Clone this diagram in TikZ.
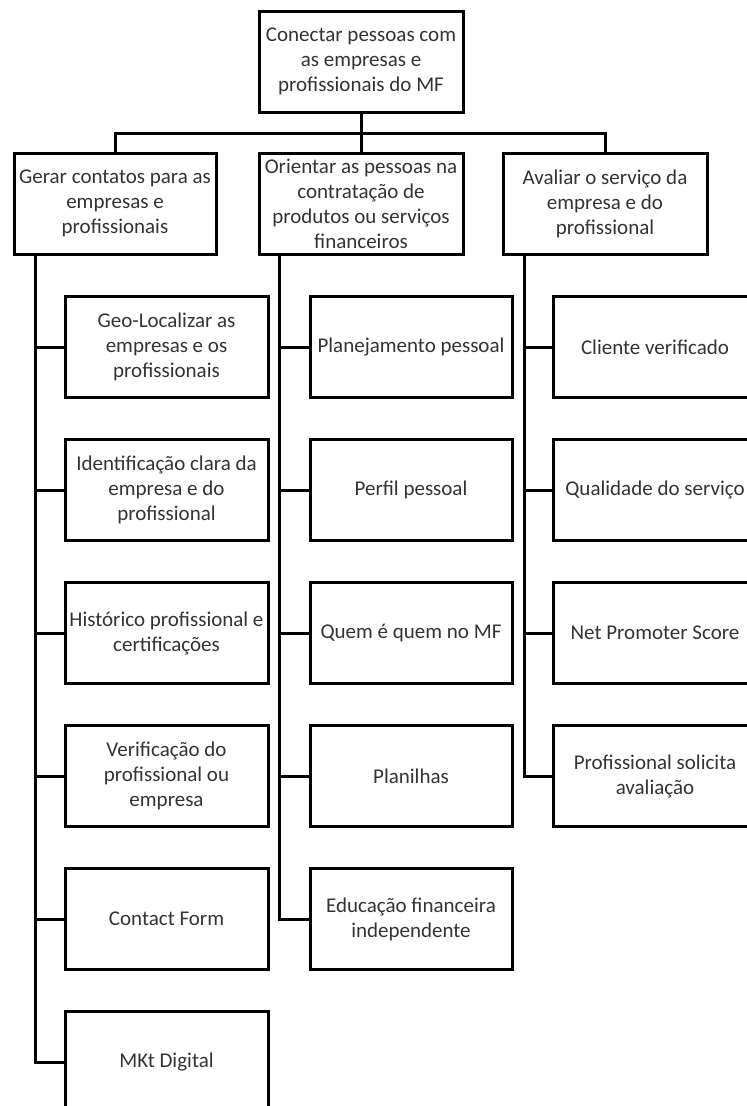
\documentclass[tikz,border=0pt]{standalone}
\usepackage{fontspec}
\setmainfont{Carlito}
\begin{document}
\begin{tikzpicture}[x=1pt,y=-1pt,
  caixa/.style={draw,line width=3pt,outer sep=0pt,inner sep=0pt,align=center,
    text=black!80,font=\fontsize{21}{25}\selectfont,minimum height=101pt},
  liga/.style={line width=3pt}]
\useasboundingbox (0,0) rectangle (747,1106);
\clip (0,0) rectangle (747,1106);
% topo e segundo nivel
\node[caixa,minimum width=204pt] (topo) at (361,61.5) {Conectar pessoas com\\as empresas e\\profissionais do MF};
\node[caixa,minimum width=202pt] (gerar) at (115,203.5) {Gerar contatos para as\\empresas e\\profissionais};
\node[caixa,minimum width=204pt] (orientar) at (361,203.5) {Orientar as pessoas na\\contratação de\\produtos ou serviços\\financeiros};
\node[caixa,minimum width=204pt] (avaliar) at (605,203.5) {Avaliar o serviço da\\empresa e do\\profissional};
\draw[liga] (topo) -- (orientar);
\draw[liga] (gerar.north) -- ++(0,-20) -| (avaliar.north);
% coluna gerar
\node[caixa,minimum width=203pt] (g1) at (166.5,347) {Geo-Localizar as\\empresas e os\\profissionais};
\node[caixa,minimum width=203pt] (g2) at (166.5,490) {Identificação clara da\\empresa e do\\profissional};
\node[caixa,minimum width=203pt] (g3) at (166.5,633) {Histórico profissional e\\certificações};
\node[caixa,minimum width=203pt] (g4) at (166.5,776) {Verificação do\\profissional ou\\empresa};
\node[caixa,minimum width=203pt] (g5) at (166.5,919) {Contact Form};
\node[caixa,minimum width=203pt] (g6) at (166.5,1062) {MKt Digital};
% coluna orientar
\node[caixa,minimum width=202pt] (o1) at (411,347) {Planejamento pessoal};
\node[caixa,minimum width=202pt] (o2) at (411,490) {Perfil pessoal};
\node[caixa,minimum width=202pt] (o3) at (411,633) {Quem é quem no MF};
\node[caixa,minimum width=202pt] (o4) at (411,776) {Planilhas};
\node[caixa,minimum width=202pt] (o5) at (411,919) {Educação financeira\\independente};
% coluna avaliar
\node[caixa,minimum width=204pt] (a1) at (655,347) {Cliente verificado};
\node[caixa,minimum width=204pt] (a2) at (655,490) {Qualidade do serviço};
\node[caixa,minimum width=204pt] (a3) at (655,633) {Net Promoter Score};
\node[caixa,minimum width=204pt] (a4) at (655,776) {Profissional solicita\\avaliação};
\foreach \f in {g1,g2,g3,g4,g5,g6}
  \draw[liga] ([xshift=21pt]gerar.south west) |- (\f.west);
\foreach \f in {o1,o2,o3,o4,o5}
  \draw[liga] ([xshift=20pt]orientar.south west) |- (\f.west);
\foreach \f in {a1,a2,a3,a4}
  \draw[liga] ([xshift=21pt]avaliar.south west) |- (\f.west);
\end{tikzpicture}
\end{document}
